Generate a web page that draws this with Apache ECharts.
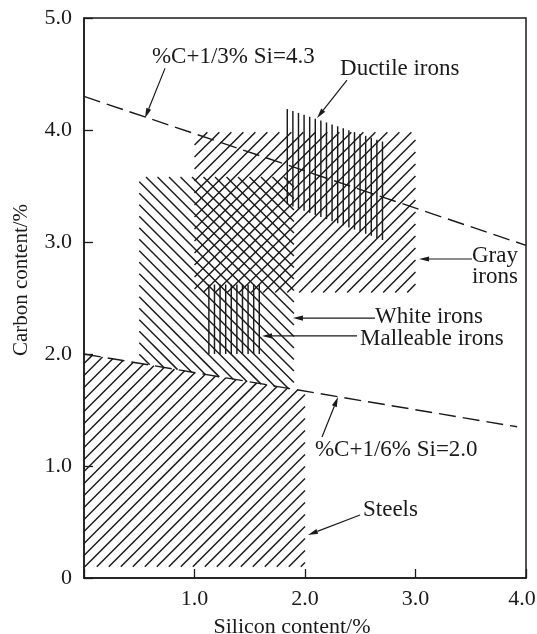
<!DOCTYPE html>
<html>
<head>
<meta charset="utf-8">
<script src="https://cdn.jsdelivr.net/npm/echarts@6.0.0/dist/echarts.min.js"></script>
<style>
  html, body { margin: 0; padding: 0; background: #fff; }
  #chart { width: 537px; height: 634px; }
</style>
</head>
<body>
<div id="chart"></div>
<script>
// axis ticks
const siTicks = [0, 1.0, 2.0, 3.0, 4.0]
const cTicks = [0, 1.0, 2.0, 3.0, 4.0, 5.0]

// boundary lines (%C + 1/3 %Si = 4.3, %C + 1/6 %Si = 2.0)
const upperLineSi = [0, 4.0]
const upperLineC = [4.3, 2.97]
const lowerLineSi = [0, 3.92]
const lowerLineC = [2.0, 1.35]

// regions, corners as [Si, C]
const regionNames = ['Steels', 'White irons', 'Gray irons', 'Ductile irons', 'Malleable irons']
const regionHatch = ['/', '\\', '/', '|', '|']
const steelsArea = [[0, 0.1], [2.0, 0.1], [2.0, 1.67], [0, 2.0]]
const whiteArea = [[0.5, 1.92], [1.9, 1.68], [1.9, 3.58], [0.5, 3.58]]
const grayArea = [[1.0, 2.55], [3.0, 2.55], [3.0, 3.98], [1.0, 3.98]]
const ductileArea = [[1.8, 3.35], [2.75, 3.0], [2.75, 3.88], [1.8, 4.2]]
const malleableArea = [[1.08, 2.0], [1.6, 2.0], [1.6, 2.62], [1.08, 2.62]]
const regionAreas = [steelsArea, whiteArea, grayArea, ductileArea, malleableArea]

// labels and where their arrows point
const labelTexts = ['%C+1/3% Si=4.3', 'Ductile irons', 'Gray\nirons', 'White irons',
  'Malleable irons', '%C+1/6% Si=2.0', 'Steels']
const labelAt = [[0.615, 4.65], [2.317, 4.545], [3.511, 2.786], [2.633, 2.33],
  [2.498, 2.134], [2.09, 1.143], [2.525, 0.607]]
const arrowFrom = [[0.733, 4.55], [2.38, 4.446], [3.511, 2.848], [2.633, 2.321],
  [2.471, 2.161], [2.154, 1.259], [2.498, 0.5625]]
const arrowTo = [[0.552, 4.107], [2.109, 4.107], [3.032, 2.848], [1.891, 2.321],
  [1.611, 2.161], [2.299, 1.616], [2.027, 0.384]]

const ink = '#1a1a1a'
const serif = '"Liberation Serif", "DejaVu Serif", serif'

// spacing (horizontal px) between hatch lines
const hatchGap = { '/': 12, '\\': 11.5, '|': 5.6 }

// cut parallel lines through a convex polygon (pixel coords)
const hatchLines = (pts, kind, gap) => {
  let n
  if (kind === '/') n = [Math.SQRT1_2, Math.SQRT1_2]
  else if (kind === '\\') n = [Math.SQRT1_2, -Math.SQRT1_2]
  else n = [1, 0]
  const step = gap * n[0]
  const proj = pts.map(p => p[0] * n[0] + p[1] * n[1])
  const pmin = Math.min(...proj)
  const pmax = Math.max(...proj)
  const out = []
  for (let p = Math.ceil(pmin / step) * step + step * 0.3; p < pmax; p += step) {
    const hits = []
    for (let i = 0; i < pts.length; i++) {
      const a = pts[i], b = pts[(i + 1) % pts.length]
      const da = proj[i] - p, db = proj[(i + 1) % pts.length] - p
      if (da === db) continue
      if (da * db <= 0) {
        const t = da / (da - db)
        hits.push([a[0] + t * (b[0] - a[0]), a[1] + t * (b[1] - a[1])])
      }
    }
    if (hits.length < 2) continue
    hits.sort((u, v) => (u[1] - v[1]) || (u[0] - v[0]))
    const s = hits[0], e = hits[hits.length - 1]
    out.push({
      type: 'line',
      shape: { x1: s[0], y1: s[1], x2: e[0], y2: e[1] },
      style: { stroke: ink, lineWidth: 1.45 }
    })
  }
  return out
}

const chart = echarts.init(document.getElementById('chart'), null, { renderer: 'canvas' })

const option = {
  animation: false,
  backgroundColor: '#fff',
  grid: {
    left: 84, right: 11, top: 18, bottom: 56,
    outerBoundsMode: 'none',
    show: true, borderColor: ink, borderWidth: 1.5, backgroundColor: 'transparent'
  },
  xAxis: {
    type: 'value',
    min: siTicks[0], max: siTicks[siTicks.length - 1], interval: 1,
    name: 'Silicon content/%',
    nameLocation: 'middle',
    nameGap: 38,
    nameTextStyle: { fontFamily: serif, fontSize: 22, color: ink, padding: [0, 26, 0, 0] },
    axisLine: { lineStyle: { color: ink, width: 1.5 } },
    axisTick: { inside: true, length: 9, lineStyle: { color: ink, width: 1.3 } },
    axisLabel: {
      fontFamily: serif, fontSize: 22, color: ink, margin: 10,
      formatter: v => {
        if (v === siTicks[0]) return ''
        if (v === siTicks[siTicks.length - 1]) return '{edge|' + v.toFixed(1) + '}'
        return v.toFixed(1)
      },
      rich: {
        edge: { fontFamily: serif, fontSize: 22, color: ink, padding: [0, 8, 0, 0] }
      }
    },
    splitLine: { show: false }
  },
  yAxis: {
    type: 'value',
    min: cTicks[0], max: cTicks[cTicks.length - 1], interval: 1,
    name: 'Carbon content/%',
    nameLocation: 'middle',
    nameGap: 52,
    nameTextStyle: { fontFamily: serif, fontSize: 21, color: ink, padding: [0, 0, 0, 36] },
    axisLine: { lineStyle: { color: ink, width: 1.5 } },
    axisTick: { inside: true, length: 9, lineStyle: { color: ink, width: 1.3 } },
    axisLabel: {
      fontFamily: serif, fontSize: 22, color: ink, margin: 12,
      formatter: v => (v === 0 ? '0' : v.toFixed(1))
    },
    splitLine: { show: false }
  },
  series: [
    {
      name: 'hatch',
      type: 'custom',
      coordinateSystem: 'cartesian2d',
      silent: true,
      data: regionNames.map((_, i) => [i, 0]),
      renderItem: (params, api) => {
        const i = params.dataIndex
        const pts = regionAreas[i].map(p => api.coord(p))
        const kind = regionHatch[i]
        return { type: 'group', children: hatchLines(pts, kind, hatchGap[kind]) }
      }
    },
    {
      name: 'upper boundary',
      type: 'line',
      symbol: 'none',
      silent: true,
      data: upperLineSi.map((s, i) => [s, upperLineC[i]]),
      lineStyle: { color: ink, width: 1.4, type: [17, 7] }
    },
    {
      name: 'lower boundary',
      type: 'line',
      symbol: 'none',
      silent: true,
      data: lowerLineSi.map((s, i) => [s, lowerLineC[i]]),
      lineStyle: { color: ink, width: 1.4, type: [17, 7] }
    },
    {
      name: 'labels',
      type: 'custom',
      coordinateSystem: 'cartesian2d',
      silent: true,
      data: labelTexts.map((_, i) => [i, 0]),
      renderItem: (params, api) => {
        const i = params.dataIndex
        const at = api.coord(labelAt[i])
        const a = api.coord(arrowFrom[i])
        const b = api.coord(arrowTo[i])
        const dx = b[0] - a[0], dy = b[1] - a[1]
        const len = Math.hypot(dx, dy)
        const ux = dx / len, uy = dy / len
        const headLen = 10, headW = 2.6
        const bx = b[0] - ux * headLen, by = b[1] - uy * headLen
        return {
          type: 'group',
          children: [
            {
              type: 'text',
              x: at[0], y: at[1],
              style: {
                text: labelTexts[i], fill: ink,
                font: '23px ' + serif, lineHeight: 21,
                align: 'left', verticalAlign: 'middle'
              }
            },
            {
              type: 'line',
              shape: { x1: a[0], y1: a[1], x2: bx, y2: by },
              style: { stroke: ink, lineWidth: 1.2 }
            },
            {
              type: 'polygon',
              shape: {
                points: [
                  [b[0], b[1]],
                  [bx - uy * headW, by + ux * headW],
                  [bx + uy * headW, by - ux * headW]
                ]
              },
              style: { fill: ink }
            }
          ]
        }
      }
    }
  ]
}

chart.setOption(option)
window.addEventListener('resize', () => chart.resize())
</script>
</body>
</html>
